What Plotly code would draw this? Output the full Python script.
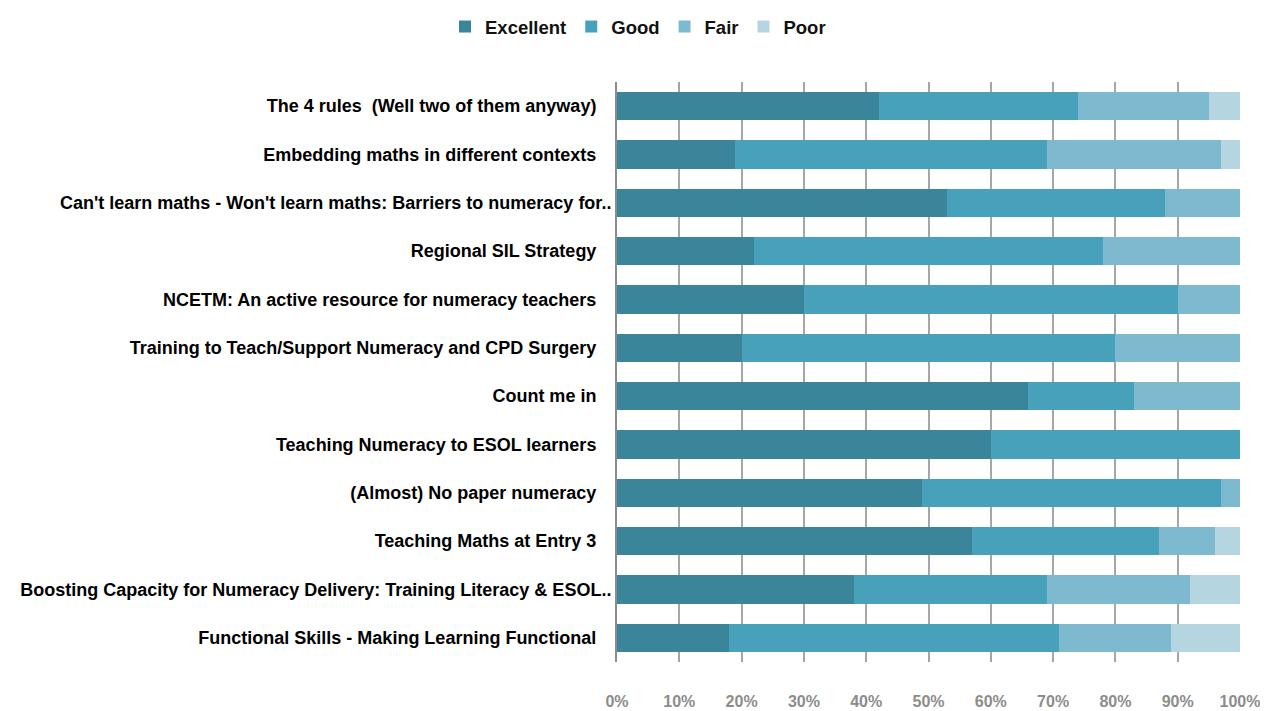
import plotly.graph_objects as go

# sessions, top to bottom as shown
sessions = [
    "The 4 rules  (Well two of them anyway)",
    "Embedding maths in different contexts",
    "Can't learn maths - Won't learn maths: Barriers to numeracy for..",
    "Regional SIL Strategy",
    "NCETM: An active resource for numeracy teachers",
    "Training to Teach/Support Numeracy and CPD Surgery",
    "Count me in",
    "Teaching Numeracy to ESOL learners",
    "(Almost) No paper numeracy",
    "Teaching Maths at Entry 3",
    "Boosting Capacity for Numeracy Delivery: Training Literacy & ESOL..",
    "Functional Skills - Making Learning Functional",
]

excellent = [42, 19, 53, 22, 30, 20, 66, 60, 49, 57, 38, 18]
good = [32, 50, 35, 56, 60, 60, 17, 40, 48, 30, 31, 53]
fair = [21, 28, 12, 22, 10, 20, 17, 0, 3, 9, 23, 18]
poor = [5, 3, 0, 0, 0, 0, 0, 0, 0, 4, 8, 11]

tick_vals = [0, 10, 20, 30, 40, 50, 60, 70, 80, 90, 100]
tick_text = ["0%", "10%", "20%", "30%", "40%", "50%", "60%", "70%", "80%", "90%", "100%"]

series = [
    ("Excellent", excellent, "#3a8599"),
    ("Good", good, "#48a1ba"),
    ("Fair", fair, "#7db9cf"),
    ("Poor", poor, "#b5d5e0"),
]

# truncated labels sit right against the axis, the others have a little padding
labels = [s if s.endswith("..") else s + "\u00a0" * 3 for s in sessions]

font_family = "Liberation Sans, Arial, sans-serif"

fig = go.Figure()
for name, vals, color in series:
    fig.add_trace(go.Bar(
        y=labels,
        x=vals,
        name=name,
        orientation="h",
        width=0.58,
        marker_color=color,
        marker_line_width=0,
    ))

# page body adds an 8px margin, so the figure is 8px smaller than the window
fig.update_layout(
    barmode="stack",
    width=1260,
    height=703,
    margin=dict(l=609, r=28, t=74, b=49, autoexpand=False),
    plot_bgcolor="white",
    paper_bgcolor="white",
    font=dict(family=font_family, size=18, color="black", weight="bold"),
    legend=dict(
        orientation="h",
        traceorder="normal",
        xref="container", yref="container",
        x=0.5, xanchor="center",
        y=1 - 19 / 703, yanchor="middle",
        font=dict(family=font_family, size=18.5, color="#111", weight="bold"),
        itemwidth=30,
    ),
    xaxis=dict(
        range=[0, 100],
        tickvals=tick_vals,
        ticktext=tick_text,
        showgrid=True,
        gridcolor="#a6a6a6",
        gridwidth=1.5,
        zeroline=False,
        showline=False,
        automargin=False,
        tickfont=dict(family=font_family, size=16, color="#8c8c8c", weight="bold"),
        ticklabelstandoff=28,
        fixedrange=True,
    ),
    yaxis=dict(
        autorange="reversed",
        showline=True,
        linecolor="#8c8c8c",
        linewidth=2,
        showgrid=False,
        automargin=False,
        tickfont=dict(family=font_family, size=18, color="black", weight="bold"),
        ticklabelstandoff=0,
        fixedrange=True,
    ),
)

fig.write_html("out.html")
